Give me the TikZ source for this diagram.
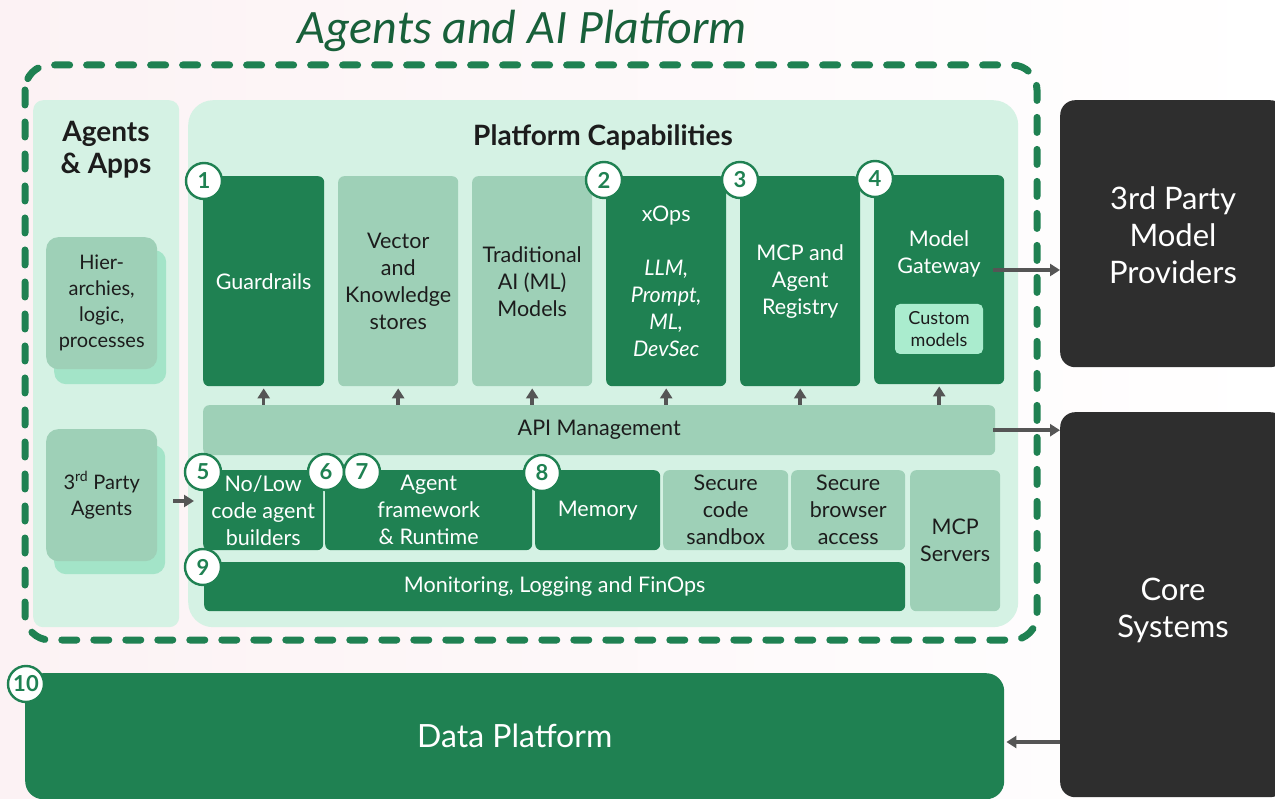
\documentclass[tikz,border=0pt]{standalone}
\usepackage{fontspec}
\setmainfont{Lato}
\newfontfamily\titlefamily{Carlito}
\usetikzlibrary{arrows.meta,positioning}

\definecolor{dkgreen}{RGB}{31,129,82}
\definecolor{ltgreen}{RGB}{158,208,183}
\definecolor{panelgreen}{RGB}{213,242,228}
\definecolor{mint}{RGB}{163,228,200}
\definecolor{custommint}{RGB}{170,236,206}
\definecolor{darkbox}{RGB}{46,46,46}
\definecolor{arrowgray}{RGB}{85,85,85}
\definecolor{titlegreen}{RGB}{24,96,58}
\definecolor{textdark}{RGB}{28,28,28}
\definecolor{bgpink}{RGB}{252,242,244}

\newcommand\boxtxt{\fontsize{21.5}{27}\selectfont}
\newcommand\hdrtxt{\bfseries\fontsize{28}{32}\selectfont}
\newcommand\sidetxt{\fontsize{20}{26}\selectfont}
\newcommand\bigtxt{\fontsize{31}{37}\selectfont}
\newcommand\numtxt{\bfseries\fontsize{22}{22}\selectfont}
\newcommand\customtxt{\fontsize{18}{22}\selectfont}

\tikzset{
  block/.style={anchor=north west, inner sep=0pt, align=center, rounded corners=6pt},
  dkbox/.style={block, fill=dkgreen, text=white, font=\boxtxt},
  ltbox/.style={block, fill=ltgreen, text=textdark, font=\boxtxt},
  panel/.style={anchor=north west, inner sep=0pt, fill=panelgreen},
  backcard/.style={anchor=north west, inner sep=0pt, fill=mint, rounded corners=12pt},
  frontcard/.style={anchor=north west, inner sep=0pt, fill=ltgreen, text=textdark, rounded corners=12pt, align=center},
  extbox/.style={anchor=north west, inner sep=0pt, fill=darkbox, rounded corners=15pt},
  extlabel/.style={text=white, align=center, font=\bigtxt},
  num/.style={circle, draw=dkgreen, fill=white, line width=2.4pt, minimum size=36pt, inner sep=0pt, text=dkgreen, font=\numtxt},
  arr/.style={-{Triangle[length=10pt,width=12pt]}, line width=3.5pt, arrowgray}
}

\begin{document}
\begin{tikzpicture}[x=1pt, y=-1pt]
\useasboundingbox (0,0) rectangle (1275,799);
\shade[left color=bgpink, right color=white] (0,0) rectangle (1275,799);

% title and dashed platform border
\node[font=\titlefamily\itshape\fontsize{48}{52}\selectfont, text=titlegreen] (title) at (522,31) {Agents and AI Platform};
\draw[dkgreen, line width=7pt, line cap=round, dash pattern=on 15pt off 17pt, rounded corners=25pt] (25,65) rectangle (1037,640);

% panels
\node[panel, rounded corners=10pt, minimum width=146pt, minimum height=527pt] (apps) at (33,100) {};
\node[panel, rounded corners=25pt, minimum width=830pt, minimum height=527pt] (plat) at (188,100) {};
\node[font=\hdrtxt, text=textdark, align=center] (appstitle) at (106,150) {Agents\\\& Apps};
\node[font=\hdrtxt, text=textdark] (plattitle) at (603,137) {Platform Capabilities};

% agents & apps cards
\node[backcard, minimum width=112pt, minimum height=134pt] (hierback) at (54,250) {};
\node[frontcard, minimum width=111pt, minimum height=132pt, font=\sidetxt] (hier) at (46,237) {Hier-\\archies,\\logic,\\processes};
\node[backcard, minimum width=111pt, minimum height=129pt] (agentsback) at (54,445) {};
\node[frontcard, minimum width=111pt, minimum height=132pt, font=\sidetxt] (agents) at (46,429) {3\textsuperscript{rd} Party\\Agents};

% top row
\node[dkbox, minimum width=121pt, minimum height=210pt] (guard) at (203,176) {Guardrails};
\node[ltbox, minimum width=120pt, minimum height=210pt] (vector) at (338,176) {Vector\\and\\Knowledge\\stores};
\node[ltbox, minimum width=120pt, minimum height=210pt] (trad) at (472,176) {Traditional\\AI (ML)\\Models};
\node[dkbox, minimum width=120pt, minimum height=210pt] (xops) at (606,176) {xOps\\[27pt]\itshape LLM,\\\itshape Prompt,\\\itshape ML,\\\itshape DevSec};
\node[dkbox, minimum width=120pt, minimum height=210pt] (registry) at (740,176) {MCP and\\Agent\\Registry};
\node[dkbox, minimum width=130pt, minimum height=209pt] (gateway) at (874,175) {};
\node[font=\boxtxt, text=white, align=center] (gwlabel) at (939,254) {Model\\Gateway};
\node[fill=custommint, rounded corners=5pt, minimum width=88pt, minimum height=50pt, inner sep=0pt, font=\customtxt, text=textdark, align=center] (custom) at (939,329) {Custom\\models};

% api layer
\node[ltbox, minimum width=792pt, minimum height=50pt] (api) at (203,405) {API Management};

% bottom row
\node[dkbox, minimum width=120pt, minimum height=80pt] (nolow) at (203,470) {No/Low\\code agent\\builders};
\node[dkbox, minimum width=207pt, minimum height=80pt] (frame) at (325,470) {Agent\\framework\\\& Runtime};
\node[dkbox, minimum width=125pt, minimum height=80pt] (memory) at (535,470) {Memory};
\node[ltbox, minimum width=125pt, minimum height=80pt] (sandbox) at (663,470) {Secure\\code\\sandbox};
\node[ltbox, minimum width=114pt, minimum height=80pt] (browser) at (791,470) {Secure\\browser\\access};
\node[ltbox, minimum width=90pt, minimum height=141pt] (mcpsrv) at (910,470) {MCP\\Servers};
\node[dkbox, minimum width=701pt, minimum height=49pt] (monitor) at (204,562) {Monitoring, Logging and FinOps};

% data platform and outside systems
\node[block, fill=dkgreen, text=white, font=\fontsize{32}{37}\selectfont, rounded corners=18pt, minimum width=979pt, minimum height=126pt] (data) at (25,673) {Data Platform};
\node[extbox, minimum width=225pt, minimum height=267pt] (third) at (1060,100) {};
\node[extlabel] (thirdlabel) at (1173,235) {3rd Party\\Model\\Providers};
\node[extbox, minimum width=225pt, minimum height=385pt] (core) at (1060,412) {};
\node[extlabel] (corelabel) at (1173,610) {Core\\Systems};

% numbers
\node[num] (n1) at (204,181) {1};
\node[num] (n2) at (604,180) {2};
\node[num] (n3) at (740,180) {3};
\node[num] (n4) at (875,179) {4};
\node[num] (n5) at (203,472) {5};
\node[num] (n6) at (326,472) {6};
\node[num] (n7) at (362,472) {7};
\node[num] (n8) at (542,473) {8};
\node[num] (n9) at (203,567) {9};
\node[num] (n10) at (26,684) {10};

% arrows
\foreach \b in {guard,vector,trad,xops,registry,gateway}
  \draw[arr] (api.north -| \b.south) -- ([yshift=-2pt]\b.south);
\coordinate (gwout) at (993,270);
\draw[arr] (gwout) -- (gwout -| third.west);
\draw[arr] ([xshift=-2pt]api.east) -- (api.east -| core.west);
\draw[arr] (core.west |- 0,742) -- ([xshift=2pt]data.east |- 0,742);
\coordinate (agout) at (173,501);
\coordinate (agin) at (194,501);
\draw[arr] (agout) -- (agin);
\end{tikzpicture}
\end{document}
